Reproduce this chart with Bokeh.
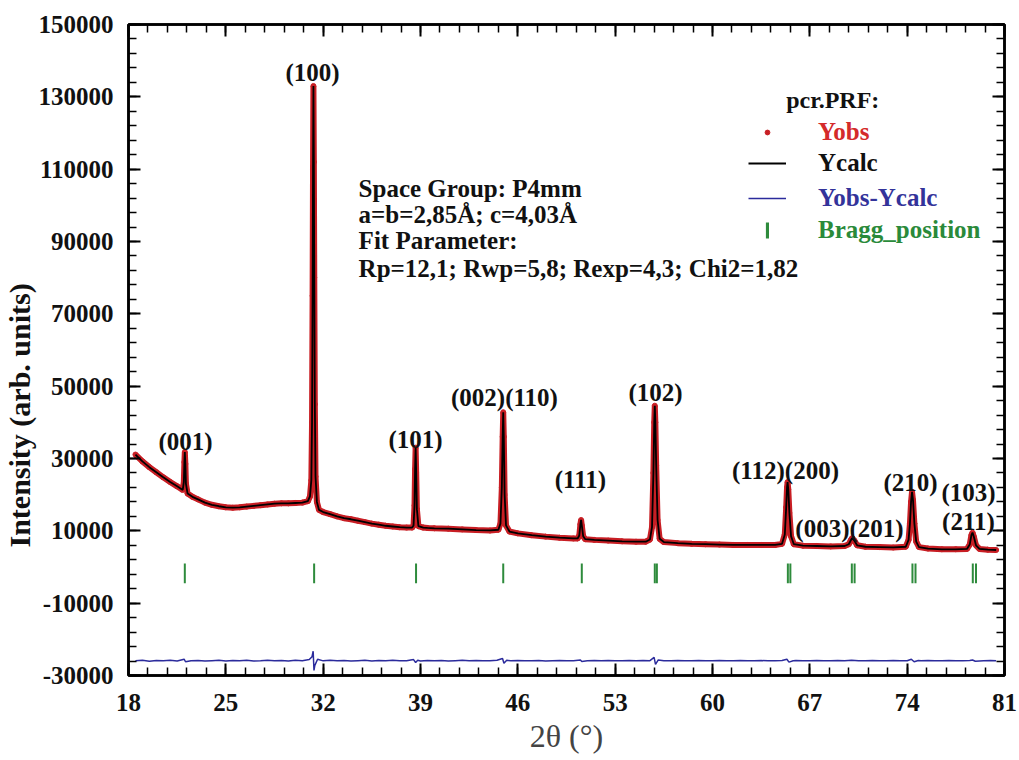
import numpy as np
from bokeh.plotting import figure
from bokeh.models import (Range1d, FixedTicker, LinearAxis, Label, Legend, LegendItem,
                          NumeralTickFormatter, ColumnDataSource, Title)
from bokeh.embed import file_html
from bokeh.resources import INLINE

# ---------------- data ----------------
two_theta = [18.5, 19.0, 19.5, 20.0, 20.5, 21.0, 21.5, 21.9, 21.98, 22.02, 22.05, 22.09, 22.13, 22.25,
             22.6, 23.0, 23.5, 24.0, 24.5, 25.0, 25.5, 26.0, 26.5, 27.0, 27.5, 28.0, 28.5, 29.0,
             29.5, 30.0, 30.5, 30.9, 31.05, 31.15, 31.2, 31.24, 31.27, 31.3, 31.33, 31.36, 31.4,
             31.45, 31.55, 31.7, 32.0, 32.5, 33.0, 33.5, 34.0, 34.5, 35.0, 35.5, 36.0, 36.5, 37.0,
             37.5, 38.0, 38.4, 38.5, 38.57, 38.61, 38.65, 38.69, 38.74, 38.85, 39.2, 39.5, 40.0,
             41.0, 42.0, 43.0, 44.0, 44.6, 44.75, 44.85, 44.91, 44.95, 44.99, 45.05, 45.15, 45.4,
             46.0, 47.0, 48.0, 49.0, 50.0, 50.3, 50.42, 50.5, 50.55, 50.6, 50.7, 50.85, 51.5, 52.5,
             53.5, 54.5, 55.2, 55.5, 55.65, 55.75, 55.81, 55.85, 55.89, 55.95, 56.05, 56.2, 56.5,
             57.5, 58.5, 59.5, 60.5, 61.5, 62.5, 63.5, 64.5, 65.0, 65.2, 65.3, 65.36, 65.4, 65.45,
             65.53, 65.65, 65.85, 66.5, 67.5, 68.5, 69.5, 69.8, 69.95, 70.05, 70.2, 70.4, 71.0,
             72.0, 73.0, 73.9, 74.1, 74.2, 74.28, 74.35, 74.42, 74.52, 74.65, 74.85, 75.5, 76.5,
             77.5, 78.3, 78.5, 78.62, 78.7, 78.8, 78.95, 79.2, 79.8, 80.4]
y_obs = [31100, 29200, 27600, 26200, 24800, 23500, 22300, 21300, 23500, 29000, 31800, 28500, 23000, 20300,
         19400, 18700, 17800, 17200, 16800, 16500, 16400, 16500, 16700, 16900, 17100, 17300, 17500, 17600,
         17600, 17700, 17800, 18200, 19500, 24000, 40000, 75000, 110000, 133000, 112000, 80000, 45000,
         25000, 18000, 15800, 15200, 14600, 14000, 13500, 13200, 12800, 12400, 12000, 11700, 11400, 11200,
         11000, 10900, 10900, 11500, 17000, 27000, 33000, 26000, 16000, 11300, 10900, 10800, 10700,
         10600, 10400, 10200, 10100, 10300, 12000, 22000, 36000, 42800, 36000, 20000, 11500, 9800,
         9300, 8800, 8400, 8100, 7900, 7900, 8700, 11800, 13000, 11500, 8500, 7700, 7500, 7300,
         7100, 7000, 7000, 7600, 11000, 26000, 40000, 44600, 40000, 28000, 13000, 7800, 6900,
         6600, 6400, 6300, 6200, 6100, 6100, 6100, 6100, 6400, 9000, 16500, 22000, 23500, 21500,
         15000, 8500, 6300, 5900, 5800, 5700, 5800, 6300, 7400, 8000, 7300, 6000, 5600,
         5500, 5400, 5600, 7500, 12000, 18000, 20800, 18500, 12000, 7000, 5500, 5100, 4900,
         4900, 5000, 6200, 8800, 9500, 8300, 6000, 5000, 4800, 4700]
y_calc = list(y_obs)

diff_x = [18.5, 19.0, 19.5, 20.0, 20.5, 21.0, 21.5, 22.0, 22.1, 22.5, 23.0, 23.5, 24.0, 24.5, 25.0,
          25.5, 26.0, 26.5, 27.0, 27.5, 28.0, 28.5, 29.0, 29.5, 30.0, 30.5, 31.0, 31.2, 31.28, 31.34,
          31.4, 31.6, 32.0, 32.5, 33.0, 33.5, 34.0, 34.5, 35.0, 35.5, 36.0, 36.5, 37.0, 37.5, 38.0,
          38.5, 38.65, 38.8, 39.0, 39.5, 40.0, 40.5, 41.0, 41.5, 42.0, 42.5, 43.0, 43.5, 44.0, 44.5,
          44.9, 45.0, 45.2, 45.5, 46.0, 46.5, 47.0, 47.5, 48.0, 48.5, 49.0, 49.5, 50.0, 50.5, 50.6,
          51.0, 51.5, 52.0, 52.5, 53.0, 53.5, 54.0, 54.5, 55.0, 55.5, 55.8, 55.9, 56.1, 56.5, 57.0,
          57.5, 58.0, 58.5, 59.0, 59.5, 60.0, 60.5, 61.0, 61.5, 62.0, 62.5, 63.0, 63.5, 64.0, 64.5,
          65.0, 65.35, 65.5, 65.8, 66.0, 66.5, 67.0, 67.5, 68.0, 68.5, 69.0, 69.5, 70.0, 70.5, 71.0,
          71.5, 72.0, 72.5, 73.0, 73.5, 74.0, 74.3, 74.5, 74.8, 75.0, 75.5, 76.0, 76.5, 77.0, 77.5,
          78.0, 78.5, 78.7, 78.9, 79.5, 80.0, 80.4]
diff_y = [-25950, -25800, -26050, -25850, -25950, -25800, -26000, -25500, -26200, -25900, -25850, -26000,
          -25900, -25800, -26000, -25850, -25950, -25800, -26000, -25900, -25750, -25950, -25850, -26000,
          -25800, -25900, -25600, -24800, -23300, -28600, -27200, -25500, -25950, -25800, -25950, -25850,
          -26000, -25900, -25800, -26000, -25850, -25950, -25800, -25950, -25900, -25600, -26400, -25800,
          -26000, -25850, -25950, -25850, -26000, -25900, -25800, -25950, -25850, -25950, -25900, -25800,
          -25300, -26600, -25800, -25950, -25850, -25950, -25900, -25850, -26000, -25900, -25850, -25950,
          -25900, -25700, -26100, -25900, -25850, -25950, -25850, -25950, -25900, -25850, -25950, -25850,
          -25900, -25000, -26900, -25700, -25950, -25900, -25850, -25950, -25900, -25850, -25950, -25900,
          -25850, -25950, -25900, -25850, -25950, -25900, -25850, -25950, -25900, -25850, -25500, -26300,
          -25900, -25850, -25950, -25900, -25850, -25950, -25900, -25850, -25950, -25800, -25950, -25900,
          -25850, -25950, -25900, -25850, -25950, -25900, -25500, -26200, -25850, -25900, -25850, -25950,
          -25900, -25850, -25950, -25900, -25850, -25700, -26050, -25900, -25850, -25900]

bragg_pos = [22.05, 31.35, 38.68, 44.95, 50.6, 55.85, 56.0, 65.42, 65.6, 70.02, 70.22, 74.38, 74.6,
             78.72, 78.95]
bragg_level = -1750

peak_labels = ["(100)", "(001)", "(101)", "(002)(110)", "(111)", "(102)", "(112)(200)",
               "(003)(201)", "(210)", "(103)", "(211)"]
peak_label_x = [31.23, 22.1, 38.64, 45.04, 50.5, 55.9, 65.25, 69.85, 74.24, 78.41, 78.41]
peak_label_y = [136700, 34700, 35250, 46870, 24190, 48250, 26680, 10640, 23360, 20600, 12580]

info_lines = ["Space Group: P4mm", "a=b=2,85\u00c5; c=4,03\u00c5", "Fit Parameter:",
              "Rp=12,1; Rwp=5,8; Rexp=4,3; Chi2=1,82"]
info_x = 34.55
info_y = [104650, 97460, 90270, 82530]

x_ticks = [18, 25, 32, 39, 46, 53, 60, 67, 74, 81]
y_ticks = [-30000, -10000, 10000, 30000, 50000, 70000, 90000, 110000, 130000, 150000]

# ---------------- styling ----------------
RED = "#c81e24"
BLUE = "#2b2b9c"
GREEN = "#2e8b3c"
FONT = "Liberation Serif"

p = figure(width=1019, height=760, output_backend="svg", toolbar_location=None,
           x_range=Range1d(18, 81), y_range=Range1d(-30000, 150000),
           min_border_left=128, min_border_right=15, min_border_top=24, min_border_bottom=85)
p.xgrid.visible = False
p.ygrid.visible = False
p.outline_line_color = "black"
p.outline_line_width = 2.5
p.background_fill_color = "white"
p.border_fill_color = "white"

x_minor = [18 + 1.4 * i for i in range(46)]
y_minor = [-30000 + 4000 * i for i in range(46)]


def style_axis(ax, ticks, minor, show_labels):
    ax.ticker = FixedTicker(ticks=ticks, minor_ticks=minor)
    ax.axis_line_width = 2.5
    ax.major_tick_in = 12
    ax.major_tick_out = 0
    ax.minor_tick_in = 8
    ax.minor_tick_out = 0
    ax.major_tick_line_width = 2
    ax.minor_tick_line_width = 1.5
    ax.formatter = NumeralTickFormatter(format="0")
    if show_labels:
        ax.major_label_text_font = FONT
        ax.major_label_text_font_style = "bold"
        ax.major_label_text_font_size = "25px"
        ax.major_label_text_color = "#111111"
    else:
        ax.major_label_overrides = {t: "" for t in ticks}
        ax.major_label_text_font_size = "1px"
        ax.major_label_standoff = 0


xa = p.xaxis[0]
ya = p.yaxis[0]
style_axis(xa, x_ticks, x_minor, True)
style_axis(ya, y_ticks, y_minor, True)
xa.major_label_standoff = 18
ya.major_label_standoff = 15
xa.axis_label = "2\u03b8 (\u00b0)"
xa.axis_label_text_font = FONT
xa.axis_label_text_font_style = "normal"
xa.axis_label_text_font_size = "32px"
xa.axis_label_standoff = 4

y_title = Title(text="Intensity (arb. units)", align="left", offset=128,
                text_font=FONT, text_font_style="bold", text_font_size="30px",
                text_color="#111111", standoff=0)
p.add_layout(y_title, "left")

top = LinearAxis()
right = LinearAxis()
style_axis(top, x_ticks, x_minor, False)
style_axis(right, y_ticks, y_minor, False)
p.add_layout(top, "above")
p.add_layout(right, "right")

# ---------------- glyphs ----------------
src = ColumnDataSource(dict(x=two_theta, obs=y_obs, calc=y_calc))
p.line("x", "obs", source=src, line_color=RED, line_width=6)
r_obs = p.scatter("x", "obs", source=src, size=5, color=RED)
r_calc = p.line("x", "calc", source=src, line_color="black", line_width=1.8)
r_diff = p.line(diff_x, diff_y, line_color=BLUE, line_width=1.5)
r_bragg = p.rect(x=bragg_pos, y=[bragg_level] * len(bragg_pos), width=2, width_units="screen",
                 height=5500, fill_color=GREEN, line_color=None)

# ---------------- annotations ----------------
for t, lx, ly in zip(peak_labels, peak_label_x, peak_label_y):
    p.add_layout(Label(x=lx, y=ly, text=t, text_align="center", text_baseline="middle",
                       text_font=FONT, text_font_style="bold", text_font_size="25px",
                       text_color="#111111"))
for t, ly in zip(info_lines, info_y):
    p.add_layout(Label(x=info_x, y=ly, text=t, text_align="left", text_baseline="middle",
                       text_font=FONT, text_font_style="bold", text_font_size="25px",
                       text_color="#111111"))
p.add_layout(Label(x=68.65, y=128990, text="pcr.PRF:", text_align="center", text_baseline="middle",
                   text_font=FONT, text_font_style="bold", text_font_size="24px", text_color="#111111"))


def mk_legend(label, rend, color, loc, gw, gh, standoff):
    lg = Legend(items=[LegendItem(label=label, renderers=[rend])], location=loc,
                padding=0, margin=0, border_line_alpha=0, background_fill_alpha=0,
                glyph_width=gw, glyph_height=gh, label_standoff=standoff, label_height=20,
                label_text_font=FONT, label_text_font_style="bold", label_text_font_size="25px",
                label_text_color=color, spacing=0)
    p.add_layout(lg, "center")


mk_legend("Yobs", r_obs, "#d42a2a", (620, 529), 38, 12, 32)
mk_legend("Ycalc", r_calc, "#111111", (620, 498), 38, 20, 32)
mk_legend("Yobs-Ycalc", r_diff, "#33339a", (620, 463), 38, 20, 32)
mk_legend("Bragg_position", r_bragg, "#2a8a3a", (637, 431), 4, 20, 49)

open("out.html", "w").write(file_html(p, INLINE))
